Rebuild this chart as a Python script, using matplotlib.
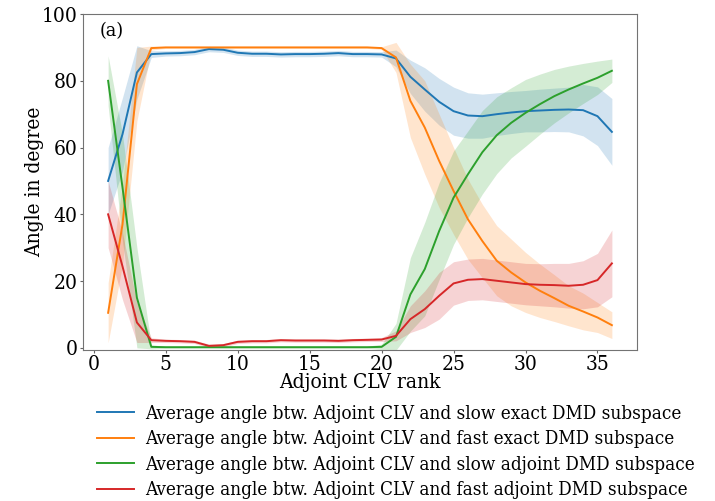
import numpy as np
import matplotlib
matplotlib.use("Agg")
import matplotlib.pyplot as plt

plt.rcParams["font.family"] = ["DejaVu Serif"]
plt.rcParams["font.stretch"] = "condensed"

rank = list(range(1, 37))

slow_exact_mean = [50, 64, 82.5, 88, 88.2, 88.3, 88.6, 89.5, 89.3, 88.4,
                   88.1, 88.1, 87.9, 88.0, 88.0, 88.1, 88.3, 88.0, 88.0, 87.9,
                   86.7, 81.2, 77.4, 73.7, 70.9, 69.6, 69.4, 70.0, 70.5, 70.9,
                   71.1, 71.3, 71.4, 71.2, 69.4, 64.7]
slow_exact_std = [10, 11, 8, 1, 0.8, 0.8, 0.8, 0.8, 0.8, 0.8,
                  0.8, 0.8, 0.8, 0.8, 0.8, 0.8, 0.8, 0.8, 0.8, 0.8,
                  2.5, 5, 6.5, 7, 7.2, 6.8, 6.6, 6.4, 6.3, 6.2,
                  6.4, 6.5, 6.7, 7.7, 8.8, 10]

fast_exact_mean = [10.5, 37, 79, 89.8, 90, 90, 90, 90, 90, 90,
                   90, 90, 90, 90, 90, 90, 90, 90, 90, 89.8,
                   87, 74, 66, 56, 47, 38.5, 32, 26.1, 22.6, 19.6,
                   17.1, 14.9, 12.6, 10.9, 9.1, 6.8]
fast_exact_std = [9, 12, 11, 0.6, 0.3, 0.3, 0.3, 0.3, 0.3, 0.3,
                  0.3, 0.3, 0.3, 0.3, 0.3, 0.3, 0.3, 0.3, 0.3, 0.4,
                  4.5, 11, 14, 14, 13, 12, 11, 10.5, 10, 9,
                  8, 7, 6, 5.5, 4.5, 4]

slow_adj_mean = [80, 48, 15, 0.3, 0.2, 0.2, 0.2, 0.2, 0.2, 0.2,
                 0.2, 0.2, 0.2, 0.2, 0.2, 0.2, 0.2, 0.2, 0.2, 0.3,
                 3.3, 16, 23.6, 35, 45, 52, 58.6, 63.7, 67.4, 70.4,
                 73, 75.4, 77.4, 79.2, 80.9, 83]
slow_adj_std = [7.5, 16, 15, 0.6, 0.3, 0.3, 0.3, 0.3, 0.3, 0.3,
                0.3, 0.3, 0.3, 0.3, 0.3, 0.3, 0.3, 0.3, 0.3, 0.8,
                4, 11, 14, 14.5, 14, 13, 12.5, 11.5, 10.5, 10,
                9, 8, 7, 6, 5, 3.5]

fast_adj_mean = [40, 24.4, 7.6, 2.3, 2.1, 2.0, 1.8, 0.6, 0.8, 1.8,
                 2.0, 2.0, 2.3, 2.2, 2.2, 2.2, 2.1, 2.3, 2.4, 2.5,
                 3.6, 8.6, 11.6, 15.6, 19.3, 20.4, 20.6, 20.1, 19.6, 19.1,
                 18.9, 18.8, 18.6, 18.9, 20.3, 25.3]
fast_adj_std = [10, 10, 6, 0.7, 0.5, 0.5, 0.5, 0.5, 0.5, 0.5,
                0.5, 0.5, 0.5, 0.5, 0.5, 0.5, 0.5, 0.5, 0.5, 0.6,
                1.5, 4, 5.5, 7, 6.5, 6.2, 6.2, 6.2, 6.2, 6.2,
                6.3, 6.5, 6.7, 7.2, 8, 10]

labels = [
    "Average angle btw. Adjoint CLV and slow exact DMD subspace",
    "Average angle btw. Adjoint CLV and fast exact DMD subspace",
    "Average angle btw. Adjoint CLV and slow adjoint DMD subspace",
    "Average angle btw. Adjoint CLV and fast adjoint DMD subspace",
]
colors = ["#1f77b4", "#ff7f0e", "#2ca02c", "#d62728"]
series = [
    (slow_exact_mean, slow_exact_std),
    (fast_exact_mean, fast_exact_std),
    (slow_adj_mean, slow_adj_std),
    (fast_adj_mean, fast_adj_std),
]

fig = plt.figure(figsize=(7.15, 5.01), dpi=100)
ax = fig.add_axes([0.116, 0.301, 0.775, 0.671])

x = np.array(rank)
handles = []
for (m, s), c, lab in zip(series, colors, labels):
    m = np.array(m)
    s = np.array(s)
    h, = ax.plot(x, m, color=c, lw=1.4, label=lab)
    ax.fill_between(x, m - s, m + s, color=c, alpha=0.2, lw=0)
    handles.append(h)

ax.set_ylim(-0.7, 100)
ax.set_yticks([0, 20, 40, 60, 80, 100])
ax.set_xticks([0, 5, 10, 15, 20, 25, 30, 35])
ax.tick_params(labelsize=15, length=2.5, pad=1.2, color="0.4")
for sp in ax.spines.values():
    sp.set_color("0.45")
ax.set_xlabel("Adjoint CLV rank", fontsize=15)
ax.set_ylabel("Angle in degree", fontsize=15)
ax.yaxis.set_label_coords(-0.087, 0.5)
ax.xaxis.set_label_coords(0.5, -0.096)
ax.xaxis.label.set_verticalalignment("center")
ax.yaxis.label.set_verticalalignment("center")
ax.text(0.03, 0.975, "(a)", transform=ax.transAxes, fontsize=14,
        ha="left", va="top")

fig.legend(handles=handles, labels=labels, loc="upper left",
           bbox_to_anchor=(0.112, 0.226), frameon=False, fontsize=13.5,
           handlelength=2.0, handletextpad=0.55, labelspacing=0.4)

fig.savefig("out.png", dpi=100)
